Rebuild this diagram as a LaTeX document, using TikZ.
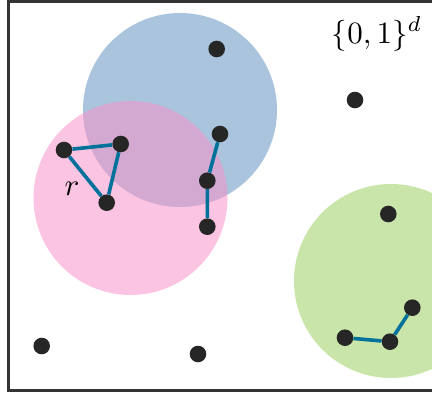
\documentclass[tikz,border=0pt]{standalone}
\usepackage{xcolor,tikz,graphicx}
\definecolor{frame}{HTML}{333333}
\definecolor{dot}{HTML}{262626}
\definecolor{teal}{HTML}{00719A}
\definecolor{ballblue}{HTML}{A9C4DC}
\definecolor{ballpink}{HTML}{F991CA}
\definecolor{ballgreen}{HTML}{C9E5A9}
\newcommand{\lab}[1]{\scalebox{3.1}{#1}}
\tikzset{
  pt/.style={circle,fill=dot,inner sep=0,minimum size=16.6pt},
  link/.style={draw=teal,line width=3.6pt},
}

\begin{document}
\begin{tikzpicture}[x=1pt,y=-1pt]
\useasboundingbox (0,0) rectangle (432,397);
\clip (0,0) rectangle (432,397);
\fill[white] (0,0) rectangle (432,397);
% balls
\fill[ballblue] (180,110) circle (97);
\fill[ballpink,opacity=0.53] (130.5,198) circle (97);
\fill[ballgreen] (391,281) circle (97);
% frame
\draw[frame,line width=3pt] (8.5,1) rectangle (450,390);
\node[anchor=base] (cube) at (377,43) {\lab{$\{0,1\}^d$}};
\node (rlab) at (72,189) {\lab{$r$}};
% points
\node[pt] (a) at (216.7,49) {};
\node[pt] (b) at (355,100) {};
\node[pt] (c) at (64,150) {};
\node[pt] (d) at (120.7,144) {};
\node[pt] (e) at (106.7,202.7) {};
\node[pt] (f) at (220,134) {};
\node[pt] (g) at (207.3,180.7) {};
\node[pt] (h) at (207.3,226.7) {};
\node[pt] (i) at (388.3,214) {};
\node[pt] (j) at (412.3,307.7) {};
\node[pt] (k) at (345,337.7) {};
\node[pt] (l) at (390,341.7) {};
\node[pt] (m) at (41.7,346) {};
\node[pt] (n) at (198,354) {};
% links
\draw[link] (c) -- (d) -- (e) -- (c);
\draw[link] (f) -- (g) -- (h);
\draw[link] (k) -- (l) -- (j);
\end{tikzpicture}
\end{document}
